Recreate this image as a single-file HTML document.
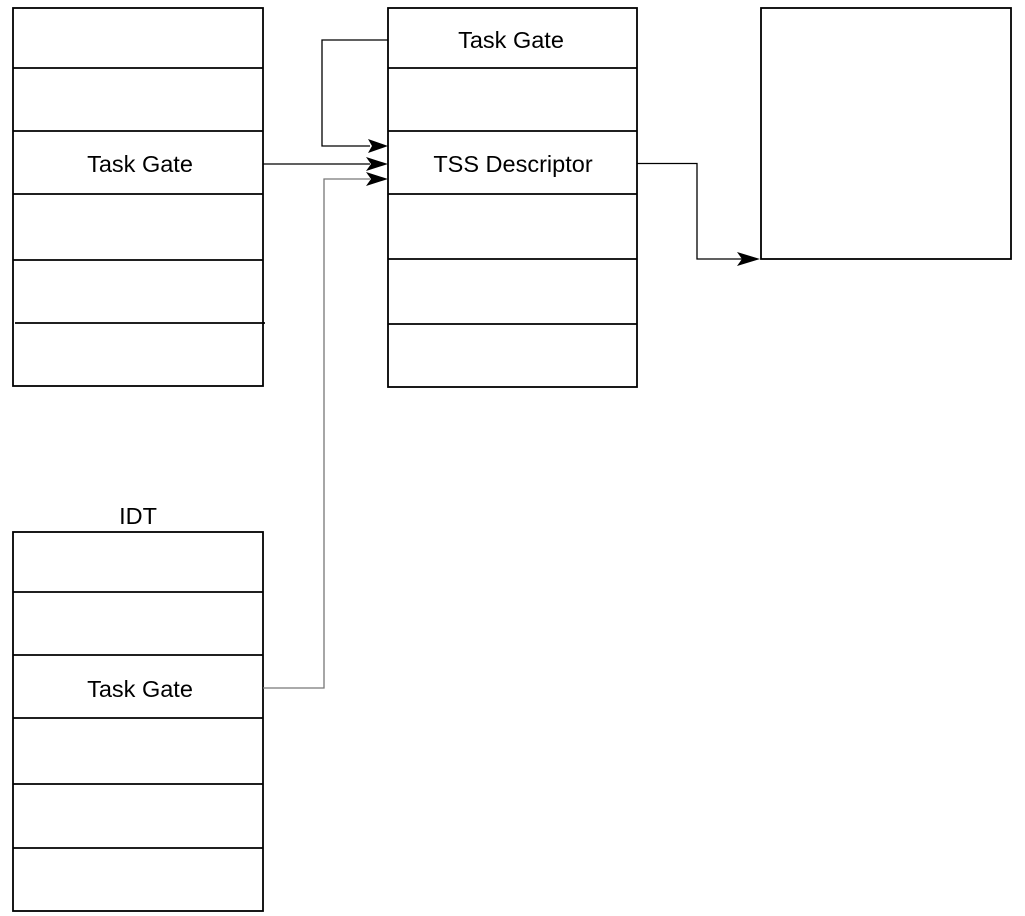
<!DOCTYPE html>
<html><head><meta charset="utf-8"><style>body{margin:0;background:#fff}svg{display:block}text{font-family:"Liberation Sans",sans-serif;font-size:23.5px;fill:#000}</style></head><body>
<svg width="1025" height="916" viewBox="0 0 1025 916">
<g fill="none" stroke="#000" stroke-width="1.8">
<rect x="13" y="8" width="250" height="378"/>
<path d="M13 68H263M13 131H263M13 194H263M13 260H263M15 323H265"/>
<rect x="388" y="8" width="249" height="379"/>
<path d="M388 68H637M388 131H637M388 194H637M388 259H637M388 324H637"/>
<rect x="761" y="8" width="250" height="251"/>
<rect x="13" y="532" width="250" height="379"/>
<path d="M13 592H263M13 655H263M13 718H263M13 784H263M13 848H263"/>
</g>
<g fill="none" stroke-width="1.3">
<path d="M388 40H322V146H370" stroke="#000"/>
<path d="M263 164H370" stroke="#000"/>
<path d="M263 688H324V179H370" stroke="#777"/>
<path d="M637 163.5H697V259H742" stroke="#000"/>
</g>
<g fill="#000">
<path d="M388 146L368 139L372 146L368 153Z"/>
<path d="M388 164L366 157L371 164L366 171Z"/>
<path d="M388 179L366 172L371 179L366 186Z"/>
<path d="M760 259L737 252L742 259L737 266Z"/>
</g>
<text x="511" y="48" text-anchor="middle">Task Gate</text>
<text x="140" y="172" text-anchor="middle">Task Gate</text>
<text x="513" y="172" text-anchor="middle">TSS Descriptor</text>
<text x="138" y="524" text-anchor="middle">IDT</text>
<text x="140" y="697" text-anchor="middle">Task Gate</text>
</svg>
</body></html>
